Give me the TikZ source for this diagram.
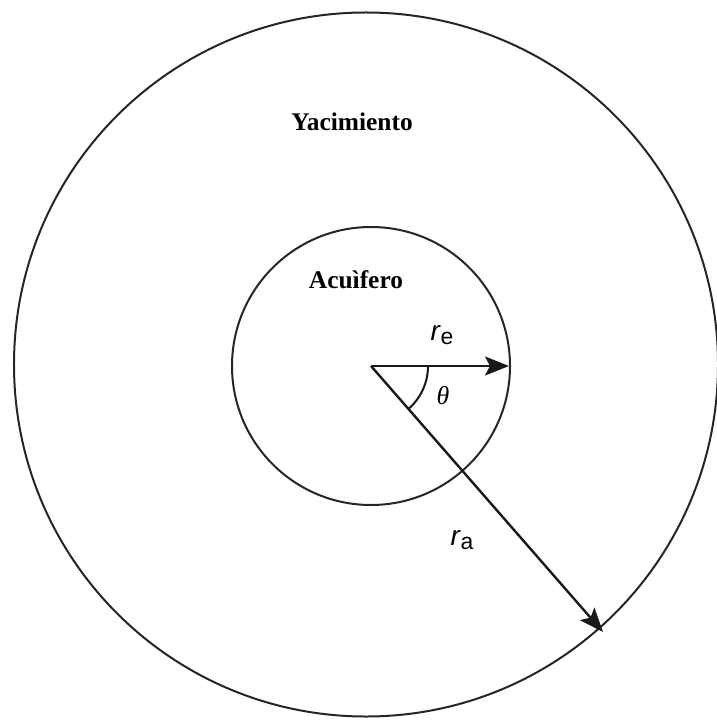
\documentclass[tikz,border=0pt]{standalone}
\usepackage{fontspec}
\setmainfont{Liberation Serif}
\newfontfamily\lsans{Liberation Sans}
\usetikzlibrary{arrows.meta,calc}
\begin{document}
\begin{tikzpicture}[x=1bp,y=-1bp,
  ring/.style={draw=black!85,line width=2bp},
  radius arrow/.style={draw=black!90,line width=2.4bp,-{Stealth[length=24bp,width=19bp,inset=5bp]}},
  title/.style={font=\fontsize{25.5}{28}\selectfont\bfseries,inner sep=0pt},
  sym/.style={font=\lsans\fontsize{28}{30}\selectfont,inner sep=0pt}
]
\useasboundingbox (0,0) rectangle (717,721);
\coordinate (O) at (371,366);
\node[ring,circle,minimum size=704bp,inner sep=0pt] (outer) at (366,364.5) {};
\node[ring,circle,minimum size=278bp,inner sep=0pt] (inner) at (O) {};
\coordinate (E) at (509,366);
\coordinate (A) at (603,632);
\draw[radius arrow] (O) -- (E);
\draw[radius arrow] (O) -- (A);
\draw[black!90,line width=2bp] ($(O)+(57,0)$) arc[start angle=0,end angle=48.9,radius=57];
\node[title] (yac) at (352,122) {Yacimiento};
\node[title] (acu) at (356,280) {Acuìfero};
\node[sym] (re) at (442,335) {\textit{r}\raisebox{-0.3ex}{\fontsize{23}{26}\selectfont e}};
\node[sym] (ra) at (462,540) {\textit{r}\raisebox{-0.3ex}{\fontsize{23}{26}\selectfont a}};
\node[font=\fontsize{26}{28}\selectfont,inner sep=0pt] (th) at (443,396) {\textit{θ}};
\end{tikzpicture}
\end{document}
